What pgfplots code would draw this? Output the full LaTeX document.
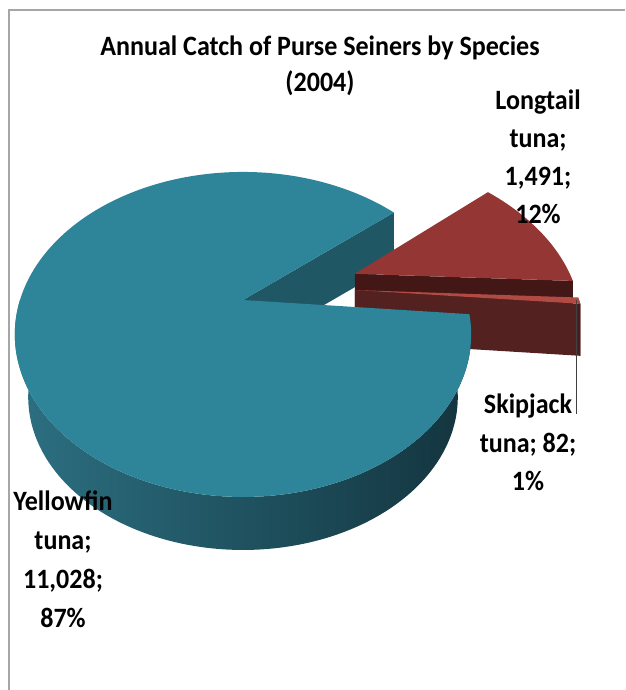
\documentclass[border=0pt]{standalone}
\usepackage{pgfplots}
\pgfplotsset{compat=1.18}
\usepackage{fontspec}
\setmainfont{Carlito}
\definecolor{ytop}{RGB}{46,132,153}
\definecolor{ycut}{RGB}{31,87,101}
\definecolor{ywallL}{RGB}{44,112,130}
\definecolor{ywallR}{RGB}{19,52,62}
\definecolor{ltop}{RGB}{148,55,52}
\definecolor{lface}{RGB}{66,23,21}
\definecolor{sface}{RGB}{83,33,31}
\definecolor{stop}{RGB}{178,74,68}
\definecolor{frame}{RGB}{166,166,166}
\newcommand\lbl[1]{\scalebox{0.93}[1]{\fontsize{28}{38}\selectfont\bfseries #1}}
\begin{document}
\begin{tikzpicture}[declare function={
    PX(\pu,\pv)=243+223*\pu/(1+0.212*\pv);
    PY(\pu,\pv)=300-155.2*\pv/(1+0.212*\pv);
    BX(\pu,\pv)=PX(\pu,\pv)+0.0587*(243-PX(\pu,\pv));
    BY(\pu,\pv)=PY(\pu,\pv)+0.0587*(1400-PY(\pu,\pv));
    WA(\t)=180+(\aE-180)*(1-abs(1-\t));}]
\useasboundingbox (0,0) rectangle (625pt,690pt);
% data: Yellowfin, Longtail, Skipjack
\def\vY{11028}\def\vL{1491}\def\vS{82}
\pgfmathsetmacro\tot{\vY+\vL+\vS}
\pgfmathsetmacro\aA{39.8}
\pgfmathsetmacro\aL{\aA-\vL/\tot*360}
\pgfmathsetmacro\aS{\aL-\vS/\tot*360}
\pgfmathsetmacro\aE{\aS+360}
\def\D{52}
\def\ouL{0.52}\def\ovL{0.175}
\def\ouS{0.509}\def\ovS{0.065}
% yellowfin cut corner
\pgfmathsetmacro\xCA{PX(cos(\aA),sin(\aA))}
\pgfmathsetmacro\yCA{PY(cos(\aA),sin(\aA))}
\pgfmathsetmacro\yCAb{\yCA+\D}
% longtail
\pgfmathsetmacro\xVL{PX(\ouL,\ovL)}
\pgfmathsetmacro\yVL{PY(\ouL,\ovL)}
\pgfmathsetmacro\yVLb{\yVL+\D}
\pgfmathsetmacro\xCL{PX(cos(\aL)+\ouL,sin(\aL)+\ovL)}
\pgfmathsetmacro\yCL{PY(cos(\aL)+\ouL,sin(\aL)+\ovL)}
\pgfmathsetmacro\yCLb{\yCL+\D}
% skipjack
\pgfmathsetmacro\xVS{PX(\ouS,\ovS)}
\pgfmathsetmacro\yVS{PY(\ouS,\ovS)}
\pgfmathsetmacro\yVSb{\yVS+\D}
\pgfmathsetmacro\xCS{PX(cos(\aS)+\ouS,sin(\aS)+\ovS)}
\pgfmathsetmacro\yCS{PY(cos(\aS)+\ouS,sin(\aS)+\ovS)}
\pgfmathsetmacro\yCSb{\yCS+\D}
\pgfmathsetmacro\xCT{PX(cos(\aL)+\ouS,sin(\aL)+\ovS)}
\pgfmathsetmacro\yCT{PY(cos(\aL)+\ouS,sin(\aL)+\ovS)}
\pgfmathsetmacro\yCTb{\yCT+\D}
\begin{axis}[at={(0,0)}, anchor=south west, scale only axis,
  width=625pt, height=690pt, xmin=0, xmax=625, ymin=0, ymax=690,
  y dir=reverse, hide axis, clip=false]
% frame
\draw[frame, line width=1.5pt] (axis cs:9,690) -- (axis cs:9,10) -- (axis cs:625,10);
% yellowfin radial face
\addplot[fill=ycut, draw=none] coordinates {(243,300) (\xCA,\yCA) (\xCA,\yCAb) (243,352)} -- cycle;
% longtail
\addplot[fill=lface, draw=none] coordinates {(\xVL,\yVL) (\xCL,\yCL) (\xCL,\yCLb) (\xVL,\yVLb)} -- cycle;
\addplot[fill=ltop, draw=none, domain=\aL:\aA, samples=60, variable=\t]
  ({PX(cos(\t)+\ouL,sin(\t)+\ovL)},{PY(cos(\t)+\ouL,sin(\t)+\ovL)}) -- (axis cs:\xVL,\yVL) -- cycle;
% skipjack
\addplot[fill=sface, draw=none] coordinates {(\xVS,\yVS) (\xCS,\yCS) (\xCS,\yCSb) (\xVS,\yVSb)} -- cycle;
\addplot[fill=sface!85!black, draw=none] coordinates {(\xCS,\yCS) (\xCT,\yCT) (\xCT,\yCTb) (\xCS,\yCSb)} -- cycle;
\addplot[fill=stop, draw=none, domain=\aS:\aL, samples=10, variable=\t]
  ({PX(cos(\t)+\ouS,sin(\t)+\ovS)},{PY(cos(\t)+\ouS,sin(\t)+\ovS)}) -- (axis cs:\xVS,\yVS) -- cycle;
% yellowfin outer wall (top arc, then receding bottom arc)
\addplot[draw=none, left color=ywallL, right color=ywallR, domain=0:2, samples=401, variable=\t]
  ({PX(cos(WA(\t)),sin(WA(\t)))+(\t>1.0025)*(BX(cos(WA(\t)),sin(WA(\t)))-PX(cos(WA(\t)),sin(WA(\t))))},
   {PY(cos(WA(\t)),sin(WA(\t)))+(\t>1.0025)*(BY(cos(WA(\t)),sin(WA(\t)))-PY(cos(WA(\t)),sin(WA(\t))))}) -- cycle;
% yellowfin top
\addplot[fill=ytop, draw=none, domain=\aA:\aE, samples=241, variable=\t]
  ({PX(cos(\t),sin(\t))},{PY(cos(\t),sin(\t))}) -- (axis cs:243,300) -- cycle;
% leader line
\draw[black!75, line width=1pt] (axis cs:576,300) -- (axis cs:576,414);
% title
\node[anchor=base] at (axis cs:320,56) {\lbl{Annual Catch of Purse Seiners by Species}};
\node[anchor=base] at (axis cs:320,92) {\lbl{(2004)}};
% labels
\node[anchor=base] at (axis cs:538,110) {\lbl{Longtail}};
\node[anchor=base] at (axis cs:538,147) {\lbl{tuna;}};
\node[anchor=base] at (axis cs:538,185) {\lbl{1,491;}};
\node[anchor=base] at (axis cs:538,223) {\lbl{12\%}};
\node[anchor=base] at (axis cs:528,413) {\lbl{Skipjack}};
\node[anchor=base] at (axis cs:528,452) {\lbl{tuna; 82;}};
\node[anchor=base] at (axis cs:528,490) {\lbl{1\%}};
\node[anchor=base] at (axis cs:63,510) {\lbl{Yellowfin}};
\node[anchor=base] at (axis cs:63,549) {\lbl{tuna;}};
\node[anchor=base] at (axis cs:63,588) {\lbl{11,028;}};
\node[anchor=base] at (axis cs:63,627) {\lbl{87\%}};
\end{axis}
\end{tikzpicture}
\end{document}
